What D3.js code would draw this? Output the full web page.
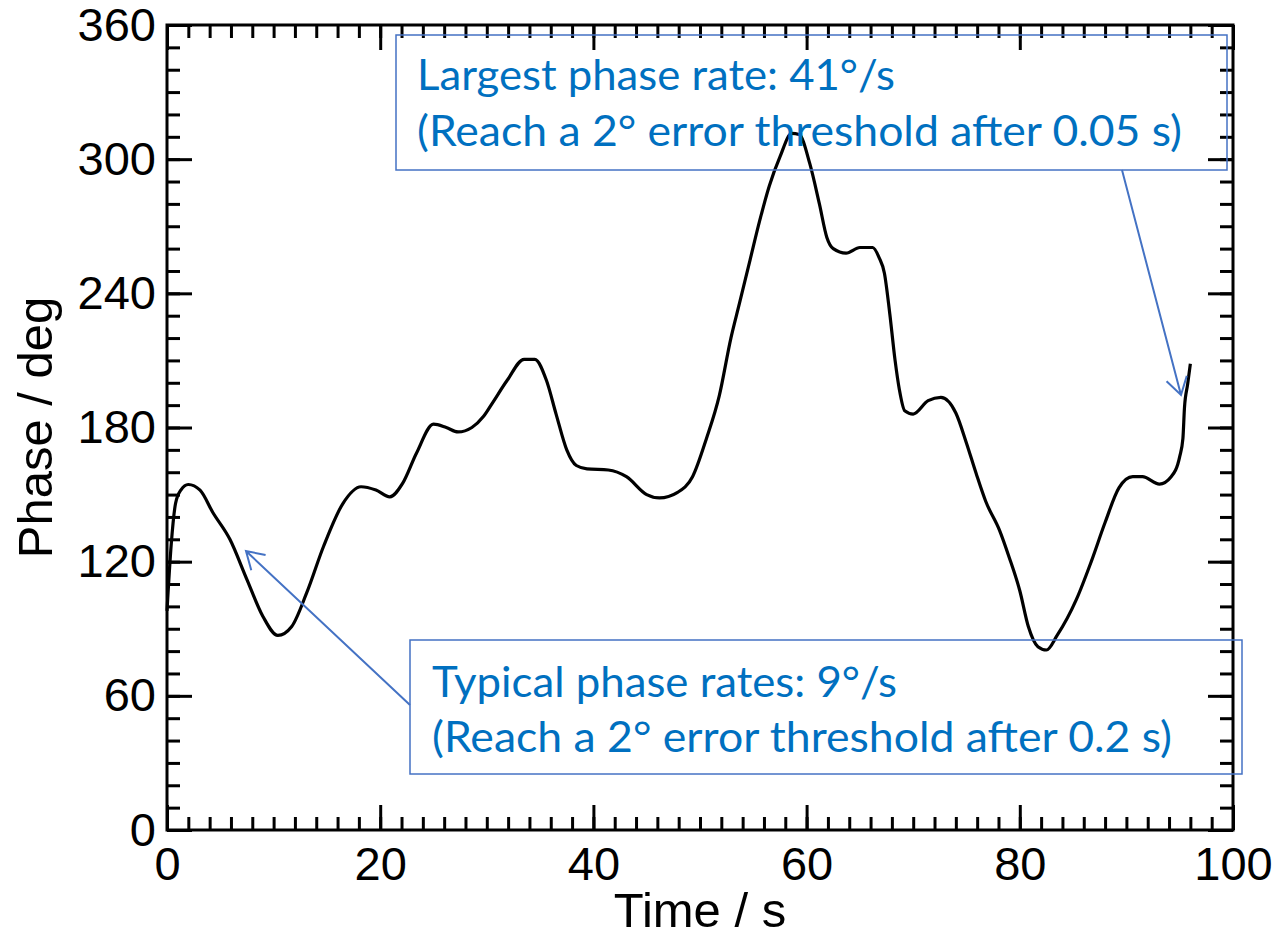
<!DOCTYPE html>
<html>
<head>
<meta charset="utf-8">
<script src="https://cdn.jsdelivr.net/npm/d3@7"></script>
<style>
  body { margin: 0; background: #fff; }
  svg { display: block; }
</style>
</head>
<body>
<div id="chart"></div>
<script>
// time in seconds, phase in degrees
const time = [0, 0.4, 0.8, 1.3, 2.0, 3.1, 4.3, 5.9, 7.5, 9.0, 10.4, 11.7, 13.1, 14.7, 16.5, 18.2, 19.6, 20.9,
  22.1, 23.4, 25.0, 26.2, 27.3, 28.6, 29.7, 30.6, 31.9, 33.5, 34.5, 35.6, 36.5, 37.5, 38.4, 39.4, 41.4, 43.1,
  45.0, 46.2, 47.9, 49.3, 50.6, 51.8, 52.9, 53.7, 54.7, 55.6, 56.5, 57.5, 58.6, 59.3, 60.3, 61.2, 61.9, 62.5,
  63.7, 65.0, 66.2, 66.8, 67.3, 67.8, 68.3, 68.7, 69.2, 70.0, 71.4, 72.6, 74.0, 75.0, 75.9, 76.8, 78.1, 79.0,
  80.0, 80.8, 81.7, 82.5, 83.5, 85.3, 86.7, 88.0, 89.3, 90.6, 91.5, 93.1, 94.2, 95.0, 95.3, 95.45, 95.75, 96.0];
const phase = [98, 128, 146, 152, 154.5, 152, 142, 130, 112, 95.5, 87, 91, 106, 127, 146, 153.5, 152, 149,
  155, 168.5, 181.5, 180, 178, 180, 185, 191.5, 201, 210.5, 210.5, 201, 186, 170, 163, 161.5, 161, 158,
  150, 148.5, 151, 158, 175, 194, 220, 235.5, 255, 272.5, 288, 301, 311.5, 311, 298, 280, 265, 260,
  258, 260.5, 260.5, 256, 249, 231, 210, 197, 187.5, 186, 192, 193.5, 186.5, 173, 159.5, 147, 134, 122,
  107, 91, 82, 80.5, 87, 103, 120, 137.5, 153, 158, 158, 154.7, 158, 167, 175, 189, 199.5, 208.5];

const xTicks = [0, 20, 40, 60, 80, 100];
const yTicks = [0, 60, 120, 180, 240, 300, 360];
const xMinor = d3.range(0, 101, 2);
const yMinor = d3.range(0, 361, 10);

const notes = [
  { lines: ["Largest phase rate: 41°/s", "(Reach a 2° error threshold after 0.05 s)"] },
  { lines: ["Typical phase rates: 9°/s", "(Reach a 2° error threshold after 0.2 s)"] }
];

const width = 1281, height = 933;
const margin = { top: 25, right: 48, bottom: 103, left: 167 };
const innerWidth = width - margin.left - margin.right;
const innerHeight = height - margin.top - margin.bottom;

const svg = d3.select("#chart")
    .append("svg")
    .attr("width", width)
    .attr("height", height);

const g = svg.append("g")
    .attr("transform", `translate(${margin.left},${margin.top})`);

const xScale = d3.scaleLinear().domain([0, 100]).range([0, innerWidth]);
const yScale = d3.scaleLinear().domain([0, 360]).range([innerHeight, 0]);

const tickFont = "'Liberation Sans', Arial, Helvetica, sans-serif";

function styleAxis(sel) {
    sel.select(".domain").remove();
    sel.selectAll(".tick line").attr("stroke", "#000").attr("stroke-width", 3);
    sel.selectAll(".tick text")
        .attr("fill", "#000")
        .style("font-family", tickFont)
        .style("font-size", "47px");
}
// ticks only, no labels
function bareAxis(sel) {
    styleAxis(sel);
    sel.selectAll(".tick text").remove();
}

// minor ticks on all four sides
g.append("g").attr("transform", `translate(0,${innerHeight})`)
    .call(d3.axisBottom(xScale).tickValues(xMinor).tickSizeInner(-13).tickSizeOuter(0))
    .call(bareAxis);
g.append("g")
    .call(d3.axisTop(xScale).tickValues(xMinor).tickSizeInner(-13).tickSizeOuter(0))
    .call(bareAxis);
g.append("g")
    .call(d3.axisLeft(yScale).tickValues(yMinor).tickSizeInner(-13).tickSizeOuter(0))
    .call(bareAxis);
g.append("g").attr("transform", `translate(${innerWidth},0)`)
    .call(d3.axisRight(yScale).tickValues(yMinor).tickSizeInner(-13).tickSizeOuter(0))
    .call(bareAxis);

// major ticks
g.append("g").attr("transform", `translate(0,${innerHeight})`)
    .call(d3.axisBottom(xScale).tickValues(xTicks).tickSizeInner(-25).tickSizeOuter(0).tickPadding(17))
    .call(styleAxis);
g.append("g")
    .call(d3.axisTop(xScale).tickValues(xTicks).tickSizeInner(-25).tickSizeOuter(0))
    .call(bareAxis);
g.append("g")
    .call(d3.axisLeft(yScale).tickValues(yTicks).tickSizeInner(-25).tickSizeOuter(0).tickPadding(11))
    .call(styleAxis);
g.append("g").attr("transform", `translate(${innerWidth},0)`)
    .call(d3.axisRight(yScale).tickValues(yTicks).tickSizeInner(-25).tickSizeOuter(0))
    .call(bareAxis);

// frame
g.append("rect")
    .attr("width", innerWidth)
    .attr("height", innerHeight)
    .attr("fill", "none")
    .attr("stroke", "#000")
    .attr("stroke-width", 3);

// curve
const line = d3.line()
    .x((d, i) => xScale(time[i]))
    .y(d => yScale(d))
    .curve(d3.curveMonotoneX);

g.append("path")
    .datum(phase)
    .attr("fill", "none")
    .attr("stroke", "#000")
    .attr("stroke-width", 3.2)
    .attr("stroke-linejoin", "round")
    .attr("d", line);

// axis titles
svg.append("text")
    .attr("x", margin.left + innerWidth / 2)
    .attr("y", 927)
    .attr("text-anchor", "middle")
    .style("font-family", tickFont)
    .style("font-size", "49px")
    .text("Time / s");

svg.append("text")
    .attr("transform", `translate(52,${margin.top + innerHeight / 2}) rotate(-90)`)
    .attr("text-anchor", "middle")
    .style("font-family", tickFont)
    .style("font-size", "49px")
    .text("Phase / deg");

// annotations
const boxes = [
    { x: 396, y: 35, w: 831, h: 135, tx: 417, base: [90, 146], len: [478, 765] },
    { x: 410, y: 640, w: 832, h: 134, tx: 432, base: [697, 752], len: [465, 740] }
];
const noteColor = "#0070C0", boxColor = "#4472C4";

boxes.forEach((b, k) => {
    svg.append("rect")
        .attr("x", b.x).attr("y", b.y)
        .attr("width", b.w).attr("height", b.h)
        .attr("fill", "none")
        .attr("stroke", boxColor)
        .attr("stroke-width", 1.5);
    notes[k].lines.forEach((t, j) => {
        svg.append("text")
            .attr("x", b.tx)
            .attr("y", b.base[j])
            .attr("fill", noteColor)
            .attr("textLength", b.len[j])
            .attr("lengthAdjust", "spacingAndGlyphs")
            .style("font-family", "Lato, 'Open Sans', sans-serif")
            .style("font-size", "42px")
            .text(t);
    });
});

const arrows = [
    { from: [1122, 170], to: [1181, 395] },
    { from: [410, 705], to: [246, 551] }
];
arrows.forEach(a => {
    const [x1, y1] = a.from, [x2, y2] = a.to;
    const ang = Math.atan2(y1 - y2, x1 - x2);
    const head = 20, spread = 0.55;
    const p = d3.path();
    p.moveTo(x1, y1);
    p.lineTo(x2, y2);
    p.moveTo(x2 + head * Math.cos(ang + spread), y2 + head * Math.sin(ang + spread));
    p.lineTo(x2, y2);
    p.lineTo(x2 + head * Math.cos(ang - spread), y2 + head * Math.sin(ang - spread));
    svg.append("path")
        .attr("d", p.toString())
        .attr("fill", "none")
        .attr("stroke", boxColor)
        .attr("stroke-width", 2);
});
</script>
</body>
</html>
